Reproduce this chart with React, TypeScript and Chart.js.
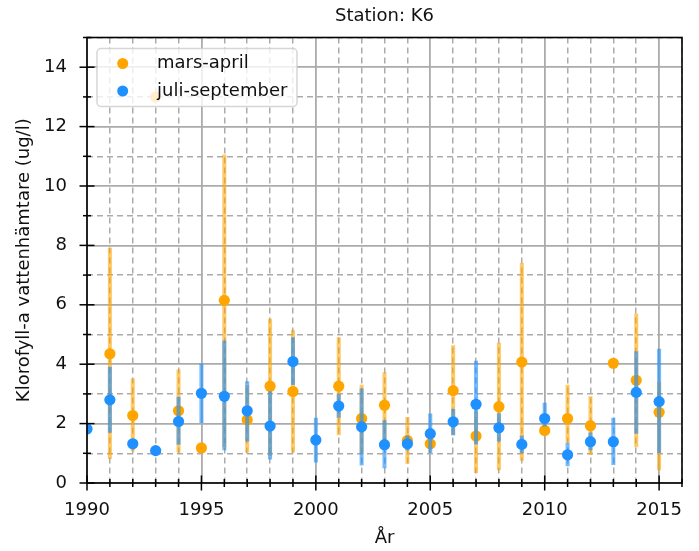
import React, { useEffect, useRef } from "react";
import { Chart, registerables } from "chart.js";

Chart.register(...registerables);

// ---- data ----
const years = [
  1990, 1991, 1992, 1993, 1994, 1995, 1996, 1997, 1998, 1999, 2000, 2001, 2002,
  2003, 2004, 2005, 2006, 2007, 2008, 2009, 2010, 2011, 2012, 2013, 2014, 2015,
];

const marsAprilMean = [
  null, 4.35, 2.27, 13.0, 2.43, 1.18, 6.15, 2.13, 3.26, 3.08, null, 3.26, 2.17,
  2.62, 1.43, 1.32, 3.11, 1.58, 2.57, 4.07, 1.77, 2.17, 1.93, 4.03, 3.46, 2.38,
];
const marsAprilLow = [
  null, 0.81, 1.07, null, 1.03, null, 1.2, 1.03, 0.9, 1.03, null, 1.61, 1.0,
  1.1, 0.65, null, 1.61, 0.34, 0.43, 0.75, null, 1.35, 0.95, null, 1.2, 0.43,
];
const marsAprilHigh = [
  null, 7.92, 3.52, null, 3.82, null, 11.06, 3.3, 5.53, 5.15, null, 4.91, 3.31,
  3.73, 2.22, null, 4.64, 2.4, 4.72, 7.41, null, 3.31, 2.92, null, 5.71, 3.4,
];

const juliSepMean = [
  1.82, 2.8, 1.32, 1.09, 2.07, 3.02, 2.92, 2.43, 1.92, 4.09, 1.45, 2.59, 1.89,
  1.29, 1.32, 1.66, 2.06, 2.65, 1.86, 1.3, 2.17, 0.95, 1.39, 1.39, 3.05, 2.74,
];
const juliSepLow = [
  null, 1.69, null, null, 1.29, 2.02, 1.1, 1.4, 0.79, 3.3, 0.69, 2.2, 0.59,
  0.5, 1.1, 1.01, 1.61, 1.3, 1.4, 1.0, 1.9, 0.56, 1.1, 0.61, 1.66, 1.01,
];
const juliSepHigh = [
  null, 3.91, null, null, 2.9, 4.02, 4.8, 3.43, 3.09, 4.91, 2.2, 3.0, 3.18,
  2.11, 1.6, 2.34, 2.49, 4.12, 2.35, 1.6, 2.7, 1.35, 1.7, 2.2, 4.44, 4.52,
];

const seriesLabels = ["mars-april", "juli-september"];
const xMajorTicks = [1990, 1995, 2000, 2005, 2010, 2015];
const yMajorTicks = [0, 2, 4, 6, 8, 10, 12, 14];
const chartTitle = "Station: K6";
const xTitle = "År";
const yTitle = "Klorofyll-a vattenhämtare (ug/l)";

const FONT = '"DejaVu Sans", sans-serif';
const ORANGE = "#FFA500";
const BLUE = "#1E90FF";
const GRID = "#ababab";

const toPoints = (vals: (number | null)[]) =>
  years.map((y, i) => ({ x: y, y: vals[i] }));

const errorBarPlugin = {
  id: "errorBars",
  beforeDatasetDraw(chart: any, args: any) {
    const ds = chart.data.datasets[args.index];
    if (!ds.errLow) return;
    const { ctx, chartArea, scales } = chart;
    ctx.save();
    ctx.beginPath();
    ctx.rect(chartArea.left, chartArea.top, chartArea.right - chartArea.left, chartArea.bottom - chartArea.top);
    ctx.clip();
    ctx.strokeStyle = ds.errColor;
    ctx.lineWidth = 4;
    ctx.lineCap = "butt";
    ds.data.forEach((p: any, i: number) => {
      const lo = ds.errLow[i];
      const hi = ds.errHigh[i];
      if (lo == null || hi == null) return;
      const x = scales.x.getPixelForValue(p.x);
      ctx.beginPath();
      ctx.moveTo(x, scales.y.getPixelForValue(lo));
      ctx.lineTo(x, scales.y.getPixelForValue(hi));
      ctx.stroke();
    });
    ctx.restore();
  },
};

const decorPlugin = {
  id: "decor",
  afterDatasetsDraw(chart: any) {
    const { ctx, chartArea, scales } = chart;
    const { left, right, top, bottom } = chartArea;
    ctx.save();
    // legend
    const lx = 97, ly = 48.5, lw = 200, lh = 58;
    ctx.beginPath();
    (ctx as any).roundRect ? ctx.roundRect(lx, ly, lw, lh, 4) : ctx.rect(lx, ly, lw, lh);
    ctx.fillStyle = "rgba(255,255,255,0.8)";
    ctx.fill();
    ctx.strokeStyle = "rgba(204,204,204,0.8)";
    ctx.lineWidth = 1.5;
    ctx.stroke();
    chart.data.datasets.forEach((ds: any) => {
      const cy = 63.5 + ds.legendIndex * 27.5;
      ctx.beginPath();
      ctx.arc(122.7, cy, 5.5, 0, Math.PI * 2);
      ctx.fillStyle = ds.backgroundColor;
      ctx.fill();
      ctx.fillStyle = "#111";
      ctx.font = `18px ${FONT}`;
      ctx.textAlign = "left";
      ctx.textBaseline = "middle";
      ctx.fillText(ds.label, 157, cy);
    });

    // frame
    ctx.strokeStyle = "#000";
    ctx.lineWidth = 1.6;
    ctx.strokeRect(left, top, right - left, bottom - top);

    // ticks (inout)
    ctx.lineWidth = 1.5;
    scales.x.ticks.forEach((t: any) => {
      const x = scales.x.getPixelForValue(t.value);
      const major = xMajorTicks.includes(t.value);
      const len = major ? 7.5 : 4;
      ctx.beginPath();
      ctx.moveTo(x, bottom - len);
      ctx.lineTo(x, bottom + len);
      ctx.stroke();
    });
    scales.y.ticks.forEach((t: any) => {
      const y = scales.y.getPixelForValue(t.value);
      const major = yMajorTicks.includes(t.value);
      const len = major ? 7.5 : 4;
      ctx.beginPath();
      ctx.moveTo(left - len, y);
      ctx.lineTo(left + len, y);
      ctx.stroke();
    });

    // title
    ctx.fillStyle = "#111";
    ctx.font = `18px ${FONT}`;
    ctx.textAlign = "center";
    ctx.textBaseline = "middle";
    ctx.fillText(chartTitle, (left + right) / 2, 16);
    ctx.restore();
  },
};

export default function App() {
  const ref = useRef<HTMLCanvasElement | null>(null);

  useEffect(() => {
    if (!ref.current) return;
    const chart = new Chart(ref.current, {
      type: "scatter",
      data: {
        datasets: [
          {
            label: seriesLabels[0],
            data: toPoints(marsAprilMean),
            backgroundColor: ORANGE,
            borderWidth: 0,
            pointRadius: 5.6,
            order: 1,
            clip: 0,
            errLow: marsAprilLow,
            errHigh: marsAprilHigh,
            errColor: "rgba(255,165,0,0.6)",
            legendIndex: 0,
          } as any,
          {
            label: seriesLabels[1],
            data: toPoints(juliSepMean),
            backgroundColor: BLUE,
            borderWidth: 0,
            pointRadius: 5.6,
            order: 0,
            clip: 0,
            errLow: juliSepLow,
            errHigh: juliSepHigh,
            errColor: "rgba(30,144,255,0.62)",
            legendIndex: 1,
          } as any,
        ],
      },
      options: {
        animation: false,
        responsive: false,
        events: [],
        layout: { padding: { top: 37.5, right: 16, left: 0, bottom: 0 } },
        plugins: {
          legend: { display: false },
          title: { display: false },
          tooltip: { enabled: false },
        },
        scales: {
          x: {
            type: "linear",
            min: 1990,
            max: 2016,
            afterFit: (s: any) => {
              s.height = 68;
            },
            ticks: {
              stepSize: 1,
              autoSkip: false,
              maxRotation: 0,
              padding: 17,
              color: "#111",
              font: { family: FONT, size: 18 },
              callback: (v: any) => (xMajorTicks.includes(v) ? String(v) : ""),
            },
            grid: {
              drawTicks: false,
              color: GRID,
              lineWidth: (c: any) => (c.tick && xMajorTicks.includes(c.tick.value) ? 1.8 : 1.5),
            },
            border: {
              display: false,
              dash: (c: any) => (c.tick && xMajorTicks.includes(c.tick.value) ? [] : [6, 4]),
            },
            title: {
              display: true,
              text: xTitle,
              color: "#111",
              font: { family: FONT, size: 18 },
              padding: { top: 0, bottom: 2 },
            },
          },
          y: {
            type: "linear",
            min: 0,
            max: 15,
            afterFit: (s: any) => {
              s.width = 87;
            },
            ticks: {
              stepSize: 1,
              autoSkip: false,
              padding: 20,
              color: "#111",
              font: { family: FONT, size: 18 },
              callback: (v: any) => (yMajorTicks.includes(v) ? String(v) : ""),
            },
            grid: {
              drawTicks: false,
              color: GRID,
              lineWidth: (c: any) => (c.tick && yMajorTicks.includes(c.tick.value) ? 1.8 : 1.5),
            },
            border: {
              display: false,
              dash: (c: any) => (c.tick && yMajorTicks.includes(c.tick.value) ? [] : [6, 4]),
            },
            title: {
              display: true,
              text: yTitle,
              color: "#111",
              font: { family: FONT, size: 18 },
              padding: { top: 14, bottom: 0 },
            },
          },
        },
      } as any,
      plugins: [errorBarPlugin, decorPlugin],
    });
    return () => chart.destroy();
  }, []);

  return (
    <div style={{ position: "absolute", left: 0, top: 0, width: 699, height: 551, background: "#fff" }}>
      <canvas ref={ref} width={699} height={551} style={{ display: "block" }} />
    </div>
  );
}
